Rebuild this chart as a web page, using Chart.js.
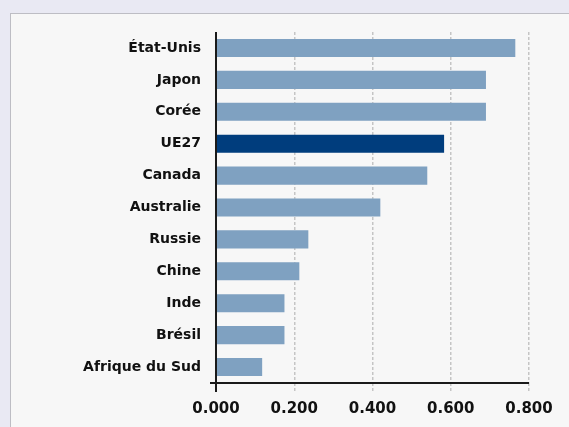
<!DOCTYPE html>
<html lang="fr">
<head>
<meta charset="utf-8">
<script src="https://cdn.jsdelivr.net/npm/chart.js@4"></script>
<style>
  html, body { margin: 0; padding: 0; }
  body { width: 569px; height: 427px; background: #e9e9f3; position: relative; overflow: hidden; }
  .panneau { position: absolute; left: 10px; top: 13px; width: 600px; height: 460px;
             background: #f7f7f7; border: 1px solid #bdbdc4; }
  #graphique { position: absolute; left: 0; top: 0; }
</style>
</head>
<body>
<div class="panneau"></div>
<canvas id="graphique" width="569" height="427"></canvas>
<script>
// Pays, du plus haut au plus bas
const pays = ["État-Unis", "Japon", "Corée", "UE27", "Canada", "Australie",
              "Russie", "Chine", "Inde", "Brésil", "Afrique du Sud"];
const valeurs = [0.765, 0.690, 0.690, 0.583, 0.540, 0.420, 0.236, 0.213, 0.175, 0.175, 0.118];
const graduations = [0, 0.2, 0.4, 0.6, 0.8];

const BLEU_CLAIR = "#7fa1c1";
const BLEU_FONCE = "#003d7d";
const couleurs = pays.map((p) => (p === "UE27" ? BLEU_FONCE : BLEU_CLAIR));

// Lignes d'axe noires, prolongées comme des traits de graduation
const axesNoirs = {
  id: "axesNoirs",
  afterDraw(chart) {
    const { ctx, chartArea: a, scales } = chart;
    const x0 = scales.x.getPixelForValue(0);
    ctx.save();
    ctx.strokeStyle = "#1a1a1a";
    ctx.lineWidth = 2;
    ctx.beginPath();
    ctx.moveTo(x0, a.top);
    ctx.lineTo(x0, a.bottom + 9);
    ctx.moveTo(x0 - 6, a.bottom);
    ctx.lineTo(scales.x.getPixelForValue(0.8), a.bottom);
    ctx.stroke();
    ctx.restore();
  },
};

new Chart(document.getElementById("graphique"), {
  type: "bar",
  data: {
    labels: pays,
    datasets: [{
      data: valeurs,
      backgroundColor: couleurs,
      borderWidth: 0,
      barPercentage: 0.7,
      categoryPercentage: 0.81,
    }],
  },
  options: {
    indexAxis: "y",
    responsive: false,
    animation: false,
    layout: { padding: { left: 10, top: 32, right: 40, bottom: 1 } },
    plugins: { legend: { display: false }, tooltip: { enabled: false } },
    scales: {
      x: {
        min: 0,
        max: 0.8,
        z: 1, // grille pointillée par-dessus les barres
        afterBuildTicks: (s) => { s.ticks = graduations.map((v) => ({ value: v })); },
        border: { display: false, dash: [3, 2] },
        grid: {
          color: (c) => (c.tick && c.tick.value === 0 ? "rgba(0,0,0,0)" : "rgba(0,0,0,0.2)"),
          lineWidth: 1.5,
          tickBorderDash: [3, 2],
          tickLength: 9,
        },
        ticks: {
          color: "#111",
          padding: 8,
          font: { family: "DejaVu Sans", weight: "bold", size: 15 },
          callback: (v) => Number(v).toFixed(3),
          maxRotation: 0,
        },
      },
      y: {
        border: { display: false },
        grid: { display: false, drawTicks: false },
        afterFit: (s) => { s.width = 206; },
        ticks: {
          color: "#111",
          padding: 15,
          font: { family: "DejaVu Sans", weight: "bold", size: 14 },
        },
      },
    },
  },
  plugins: [axesNoirs],
});
</script>
</body>
</html>
